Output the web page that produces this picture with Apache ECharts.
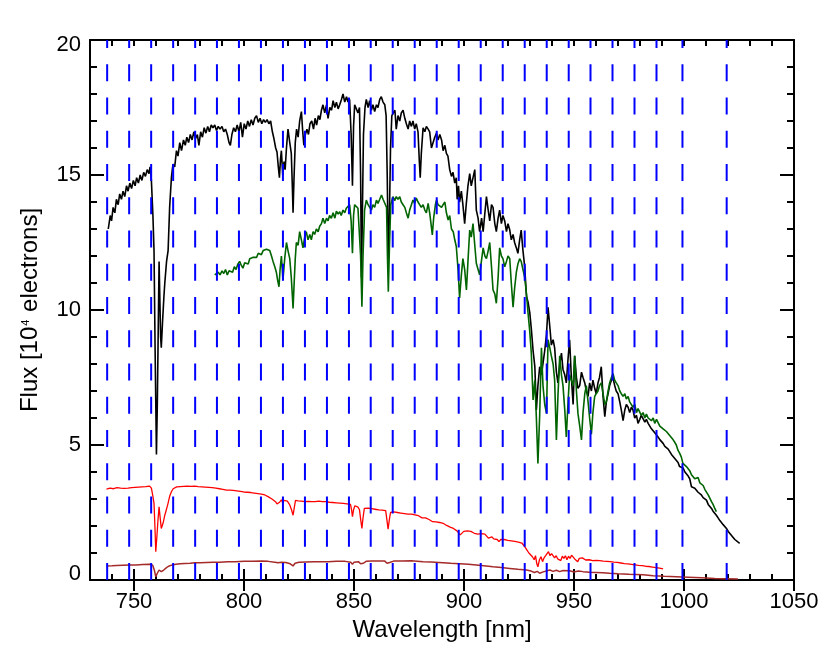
<!DOCTYPE html>
<html>
<head>
<meta charset="utf-8">
<script src="https://cdn.jsdelivr.net/npm/echarts@6/dist/echarts.min.js"></script>
<style>
html,body{margin:0;padding:0;background:#fff;}
#chart{width:830px;height:663px;}
</style>
</head>
<body>
<div id="chart"></div>
<script>
// ---- data ----
const xTickLabels = [750, 800, 850, 900, 950, 1000, 1050];
const yTickLabels = [0, 5, 10, 15, 20];
const guideWavelengths = [737.8, 747.8, 757.8, 767.8, 777.8, 787.7, 797.7, 807.7, 817.7, 827.7, 837.7, 847.7, 857.6, 867.6, 877.6, 887.6, 897.6, 907.6, 917.6, 927.6, 937.6, 947.6, 957.5, 967.5, 977.5, 987.5, 999.3, 1019.4];

const blackSpectrum = [
[738.3,13.0],[739.2,13.5],[739.8,13.3],[740.5,13.8],[741.3,13.6],[742.0,14.1],[742.8,13.9],[743.5,14.3],[744.3,14.1],[745.0,14.4],
[745.8,14.2],[746.6,14.6],[747.3,14.4],[748.1,14.7],[748.9,14.5],[749.7,14.8],[750.5,14.6],[751.2,14.9],[752.0,14.7],[752.8,15.0],
[753.6,14.8],[754.4,15.1],[755.2,14.95],[756.0,15.2],[756.8,15.05],[757.3,15.3],[757.9,14.8],[758.6,13.5],[759.1,12.2],[759.6,8.5],
[760.2,4.65],[760.6,6.5],[760.9,8.5],[761.2,10.5],[761.4,11.8],[761.8,10.2],[762.1,9.0],[762.4,8.6],[763.0,9.6],[763.6,10.5],
[764.0,11.0],[764.8,11.8],[765.5,12.2],[766.2,13.8],[767.0,14.9],[767.7,15.4],[768.5,15.3],[769.3,15.9],[770.0,15.7],[770.8,16.2],
[771.6,15.9],[772.5,16.3],[773.3,16.1],[774.0,16.4],[774.8,16.2],[775.6,16.5],[776.4,16.3],[777.2,16.6],[778.0,16.35],[778.8,16.5],
[779.5,16.1],[780.3,16.6],[781.1,16.4],[781.9,16.75],[782.7,16.55],[783.5,16.8],[784.3,16.6],[785.1,16.85],[785.9,16.75],[786.7,16.85],
[787.5,16.65],[788.3,16.8],[789.1,16.7],[790.0,16.8],[790.8,16.6],[791.6,16.7],[792.4,16.5],[793.2,16.2],[793.8,16.1],[794.5,16.5],
[795.3,16.75],[796.1,16.6],[796.9,16.85],[797.7,16.6],[798.5,16.95],[799.3,16.4],[800.1,16.9],[800.9,16.7],[801.7,17.0],[802.5,16.8],
[803.3,17.05],[804.1,16.85],[804.9,17.1],[805.7,17.2],[806.5,16.95],[807.3,17.1],[808.1,16.9],[808.9,17.05],[809.7,16.95],[810.5,17.05],
[811.3,16.9],[812.1,17.0],[812.9,16.6],[813.6,16.35],[814.4,16.0],[815.0,15.85],[815.6,15.3],[816.1,14.9],[816.6,15.6],[817.0,15.9],
[817.6,15.0],[818.2,15.5],[818.7,15.2],[819.3,16.0],[820.0,16.7],[820.8,16.2],[821.5,15.8],[822.0,14.5],[822.3,13.6],[822.7,14.8],
[823.3,16.2],[823.9,16.7],[824.6,16.4],[825.3,17.0],[826.1,17.35],[826.7,16.6],[827.2,16.1],[827.9,16.5],[828.6,16.7],[829.3,16.5],
[830.0,16.9],[830.8,17.0],[831.6,16.7],[832.3,17.1],[833.0,16.85],[833.8,17.2],[834.5,17.05],[835.2,17.4],[835.9,17.6],[836.7,17.3],
[837.5,17.6],[838.2,17.1],[839.0,17.5],[839.8,17.4],[840.5,17.75],[841.3,17.5],[842.0,17.7],[842.8,17.45],[843.5,17.6],[844.3,17.8],
[845.0,18.0],[845.8,17.7],[846.6,17.9],[847.3,17.7],[848.0,17.8],[848.7,16.5],[849.3,14.6],[849.8,16.8],[850.3,17.6],[851.0,17.55],
[851.8,17.3],[852.5,17.5],[853.0,15.0],[853.4,11.2],[853.8,13.5],[854.3,16.5],[855.0,17.5],[855.6,17.8],[856.4,17.5],[857.1,17.75],
[857.9,17.4],[858.6,17.6],[859.4,17.35],[860.2,17.6],[860.9,17.5],[861.7,17.8],[862.4,17.9],[863.2,17.7],[864.0,17.6],[864.6,17.2],
[865.1,15.0],[865.6,11.9],[866.1,13.5],[866.6,16.0],[867.2,17.2],[867.9,17.3],[868.6,17.4],[869.2,16.7],[870.0,17.2],[870.8,17.0],
[871.5,17.3],[872.3,17.4],[873.1,17.1],[873.8,16.9],[874.6,16.7],[875.3,17.0],[876.1,16.8],[876.8,17.0],[877.6,16.7],[878.3,16.9],
[879.1,16.6],[879.7,15.5],[880.1,14.9],[880.6,15.8],[881.4,16.75],[882.2,16.6],[882.9,16.8],[883.7,16.7],[884.4,16.6],[885.2,16.0],
[885.9,16.05],[886.7,16.4],[887.5,16.55],[888.2,16.3],[889.0,16.5],[889.8,16.3],[890.5,15.9],[891.3,16.1],[892.0,15.8],[892.7,15.7],
[893.5,15.2],[894.3,14.95],[895.0,15.1],[895.8,14.7],[896.5,14.9],[896.9,14.1],[897.5,14.6],[898.0,14.0],[898.8,14.4],[899.5,13.9],
[900.3,13.2],[901.0,13.9],[901.8,14.6],[902.6,15.05],[903.3,14.6],[904.0,14.6],[904.9,15.2],[905.6,13.7],[906.4,13.4],[907.1,12.9],
[908.0,13.4],[908.7,12.9],[909.5,13.6],[910.2,14.2],[911.0,13.7],[911.7,13.3],[912.5,13.9],[913.2,13.8],[914.0,13.2],[914.7,12.9],
[915.5,13.4],[916.2,13.7],[917.0,13.2],[917.7,13.5],[918.5,13.3],[919.3,12.9],[920.0,13.2],[920.8,12.96],[921.5,12.6],[922.3,12.8],
[923.0,12.5],[923.8,12.3],[924.5,12.1],[925.3,12.6],[926.0,12.96],[926.8,12.2],[927.6,11.6],[928.4,10.5],[929.1,10.3],[929.9,9.9],
[930.6,9.3],[931.4,8.5],[932.2,7.9],[932.9,6.3],[933.6,7.2],[934.4,7.9],[935.2,7.6],[935.9,7.55],[936.7,8.5],[937.5,9.1],
[938.2,10.1],[938.6,10.1],[939.2,9.2],[939.7,8.7],[940.5,8.9],[941.2,8.6],[942.0,7.7],[942.7,7.3],[943.5,8.0],[944.3,8.4],
[945.0,7.8],[945.8,7.6],[946.5,7.3],[947.3,8.2],[948.0,8.9],[948.8,7.5],[949.6,6.5],[950.3,8.3],[951.1,7.5],[951.8,7.1],
[952.6,7.2],[953.4,7.7],[954.1,7.5],[954.9,7.3],[955.6,7.0],[956.4,6.8],[957.1,7.3],[957.9,7.0],[958.6,7.4],[959.4,7.1],
[960.1,6.9],[960.9,7.3],[961.6,7.5],[962.4,7.9],[963.2,6.8],[964.0,6.05],[964.7,6.6],[965.5,6.9],[966.2,7.2],[967.0,7.4],
[967.7,7.5],[968.5,7.2],[969.2,7.0],[970.0,6.9],[970.8,6.6],[971.5,6.3],[972.3,5.9],[973.1,6.3],[973.8,6.5],[974.6,6.4],
[975.3,6.2],[976.1,6.4],[976.8,6.3],[977.6,6.0],[978.4,6.1],[979.1,5.8],[979.9,5.95],[980.6,6.1],[981.4,6.05],[982.2,5.85],
[982.9,5.95],[983.7,5.8],[984.4,5.75],[985.2,5.6],[986.0,5.6],[986.7,5.45],[987.5,5.5],[988.2,5.3],[989.0,5.2],[989.8,5.15],
[990.5,5.06],[991.3,4.95],[992.0,4.9],[992.8,4.85],[993.5,4.8],[994.3,4.65],[995.0,4.6],[995.8,4.5],[996.5,4.44],[997.3,4.35],
[998.0,4.2],[998.8,4.25],[999.6,4.15],[1000.4,4.0],[1001.1,3.95],[1001.9,3.85],[1002.6,3.75],[1003.4,3.45],[1004.1,3.5],[1004.9,3.4],
[1005.6,3.35],[1006.4,3.25],[1007.2,3.2],[1007.9,3.15],[1008.7,3.05],[1009.5,3.0],[1010.2,2.96],[1011.0,2.8],[1011.7,2.75],[1012.5,2.65],
[1013.2,2.55],[1014.0,2.5],[1014.7,2.4],[1015.5,2.3],[1016.3,2.2],[1017.0,2.15],[1017.8,2.05],[1018.5,2.0],[1019.3,1.91],[1020.1,1.8],
[1020.8,1.75],[1021.6,1.65],[1022.3,1.6],[1023.1,1.5],[1023.8,1.45],[1024.6,1.4],[1025.3,1.36]
];

const greenSpectrum = [
[786.7,11.3],[787.5,11.25],[788.3,11.4],[789.1,11.3],[790.0,11.45],[790.8,11.35],[791.6,11.5],[792.4,11.3],[793.2,11.45],[794.0,11.5],
[794.8,11.4],[795.6,11.6],[796.4,11.5],[797.2,11.7],[798.0,11.8],[798.8,11.65],[799.5,11.55],[800.3,11.75],[801.1,11.8],[801.9,11.7],
[802.6,11.9],[803.4,11.85],[804.2,11.95],[804.9,12.0],[805.7,11.95],[806.5,12.1],[807.1,12.15],[807.9,12.05],[808.7,12.2],[809.5,12.15],
[810.2,12.25],[811.0,12.2],[811.7,12.2],[812.5,12.0],[813.2,11.8],[814.0,11.6],[814.7,11.4],[815.3,11.1],[815.9,10.86],[816.4,11.5],
[817.0,12.0],[817.4,11.5],[817.7,11.1],[818.5,11.9],[819.3,12.5],[820.0,12.2],[820.8,11.9],[821.5,11.2],[822.0,10.5],[822.3,10.06],
[822.8,11.0],[823.3,11.9],[823.8,12.5],[824.6,12.4],[825.3,12.9],[826.1,12.6],[826.8,12.3],[827.6,12.7],[828.3,12.9],[829.1,12.6],
[829.9,12.8],[830.6,12.6],[831.4,12.9],[832.1,12.8],[832.9,13.0],[833.7,12.9],[834.4,13.1],[835.2,13.2],[835.9,13.4],[836.7,13.2],
[837.5,13.4],[838.2,13.3],[838.9,13.5],[839.7,13.4],[840.5,13.6],[841.3,13.4],[842.0,13.66],[842.8,13.55],[843.5,13.64],[844.2,13.5],
[845.0,13.7],[845.8,13.6],[846.5,13.77],[847.3,13.7],[848.0,13.9],[848.7,13.3],[849.3,12.1],[849.8,13.5],[850.3,13.9],[851.0,13.85],
[851.8,13.77],[852.5,13.8],[853.0,12.0],[853.6,10.12],[854.1,12.0],[854.8,13.7],[855.6,14.07],[856.4,13.9],[857.1,13.95],[857.9,13.7],
[858.6,13.9],[859.4,13.8],[860.2,14.07],[860.9,13.95],[861.7,14.1],[862.5,14.26],[863.2,14.1],[864.0,14.07],[864.8,13.8],[865.2,12.0],
[865.6,10.68],[866.1,12.3],[866.7,13.9],[867.7,14.2],[868.5,14.05],[869.2,14.2],[870.0,14.1],[870.8,14.2],[871.5,14.0],[872.3,13.9],
[873.1,13.8],[873.8,13.6],[874.6,13.4],[875.3,13.7],[876.1,13.9],[876.8,14.07],[877.6,13.95],[878.3,14.15],[879.1,14.0],[879.9,14.0],
[880.6,13.8],[881.4,13.9],[882.2,13.7],[882.9,13.6],[883.7,13.95],[884.4,13.6],[885.0,13.2],[885.6,12.78],[886.2,13.4],[887.0,13.9],
[887.5,14.07],[888.2,13.9],[889.0,13.95],[889.8,13.8],[890.5,13.9],[891.3,14.0],[892.0,13.6],[892.8,13.33],[893.5,13.5],[894.3,13.0],
[895.1,12.9],[895.8,12.6],[896.5,12.35],[897.3,11.5],[898.0,10.45],[898.8,11.3],[899.5,11.9],[900.3,11.5],[901.1,10.74],[901.8,11.8],
[902.6,12.96],[903.3,12.7],[904.1,13.2],[904.9,12.4],[905.6,11.73],[906.4,11.5],[907.1,11.3],[907.9,11.8],[908.7,12.3],[909.5,12.0],
[910.2,11.9],[911.0,12.2],[911.7,12.5],[912.5,11.6],[913.2,10.74],[914.0,10.6],[914.7,10.25],[915.5,11.2],[916.2,12.3],[917.0,12.0],
[917.7,11.9],[918.5,11.6],[919.3,11.8],[920.0,12.0],[920.8,11.9],[921.5,11.0],[922.3,10.1],[923.0,10.8],[923.8,11.4],[924.5,11.7],
[925.3,11.9],[926.0,11.8],[926.8,11.5],[927.6,11.2],[928.4,10.6],[929.1,9.9],[929.9,9.2],[930.6,8.4],[931.4,6.67],[932.2,7.4],
[932.9,6.0],[933.6,4.32],[934.4,6.1],[935.2,8.6],[935.9,7.2],[936.7,6.5],[937.5,6.17],[938.2,8.9],[939.0,8.6],[939.7,8.3],
[940.5,8.0],[941.2,7.4],[942.0,5.19],[942.7,6.8],[943.5,8.3],[944.3,7.6],[945.0,7.2],[945.8,6.3],[946.5,5.3],[947.3,6.6],
[948.0,7.6],[948.8,7.4],[949.6,7.2],[950.3,8.3],[951.1,7.0],[951.8,6.17],[952.6,5.7],[953.4,5.19],[954.1,6.2],[954.9,6.9],
[955.6,7.2],[956.4,6.6],[957.1,6.0],[957.9,5.4],[958.6,6.2],[959.4,6.8],[960.1,6.9],[960.9,7.0],[961.6,7.2],[962.4,7.3],
[963.2,6.9],[964.0,6.5],[964.7,6.6],[965.5,7.0],[966.2,7.3],[967.0,7.5],[967.7,7.65],[968.5,7.4],[969.2,7.3],[970.0,7.2],
[970.8,7.0],[971.5,6.9],[972.3,6.8],[973.1,6.9],[973.8,6.7],[974.6,6.8],[975.3,6.6],[976.1,6.6],[976.8,6.4],[977.6,6.5],
[978.4,6.2],[979.1,6.35],[979.9,6.3],[980.6,6.1],[981.4,6.2],[982.2,6.0],[982.9,6.15],[983.7,6.0],[984.4,6.0],[985.2,5.9],
[986.0,6.0],[986.7,5.8],[987.5,5.95],[988.2,5.9],[989.0,5.7],[989.8,5.75],[990.5,5.6],[991.3,5.6],[992.0,5.5],[992.8,5.45],
[993.5,5.35],[994.3,5.3],[995.0,5.2],[995.8,5.1],[996.5,5.0],[997.3,4.8],[998.0,4.7],[998.8,4.55],[999.5,4.32],[1000.3,4.35],
[1001.1,4.2],[1001.8,4.2],[1002.6,4.05],[1003.4,3.9],[1004.1,3.95],[1004.9,3.75],[1005.6,3.7],[1006.4,3.8],[1007.2,3.6],[1007.9,3.55],
[1008.7,3.5],[1009.5,3.35],[1010.2,3.3],[1011.0,3.15],[1011.7,3.09],[1012.5,2.9],[1013.2,2.8],[1014.0,2.65],[1014.7,2.53]
];

const redSpectrum = [
[737.5,3.37],[738.3,3.35],[739.1,3.4],[739.9,3.33],[740.7,3.38],[741.5,3.35],[742.3,3.42],[743.1,3.38],[743.9,3.4],[744.7,3.43],
[745.5,3.39],[746.3,3.44],[747.3,3.4],[748.1,3.45],[748.9,3.42],[749.7,3.46],[750.5,3.43],[751.3,3.47],[752.1,3.44],[752.9,3.47],
[753.7,3.45],[754.5,3.48],[755.3,3.46],[756.1,3.49],[757.1,3.48],[757.9,3.4],[758.6,3.1],[759.1,2.84],[759.5,2.0],[759.9,1.05],
[760.4,1.6],[760.9,2.22],[761.4,2.71],[761.9,2.3],[762.4,1.91],[763.2,2.1],[764.0,2.4],[764.7,2.6],[765.5,2.85],[766.2,3.1],
[767.0,3.27],[767.8,3.38],[768.6,3.42],[769.4,3.45],[770.2,3.48],[771.0,3.46],[771.8,3.5],[772.6,3.47],[773.4,3.5],[774.2,3.48],
[775.0,3.51],[775.8,3.47],[776.6,3.5],[777.6,3.48],[778.4,3.5],[779.2,3.46],[780.0,3.48],[780.8,3.45],[781.6,3.47],[782.4,3.44],
[783.2,3.46],[784.0,3.43],[784.8,3.46],[785.6,3.42],[786.4,3.44],[787.2,3.4],[788.0,3.42],[788.8,3.38],[789.6,3.4],[790.4,3.36],
[791.2,3.37],[792.0,3.33],[792.7,3.3],[793.5,3.33],[794.3,3.29],[795.1,3.32],[795.9,3.27],[796.7,3.3],[797.5,3.26],[798.3,3.28],
[799.1,3.24],[799.9,3.26],[800.7,3.22],[801.5,3.25],[802.3,3.21],[803.1,3.24],[803.9,3.2],[804.7,3.22],[805.5,3.18],[806.3,3.2],
[807.1,3.17],[807.9,3.18],[808.7,3.14],[809.5,3.15],[810.3,3.1],[811.1,3.08],[811.9,3.04],[812.7,3.0],[813.5,2.95],[814.3,2.9],
[815.0,2.82],[815.5,2.78],[816.2,2.88],[817.0,2.97],[817.6,2.86],[818.2,2.95],[819.0,3.0],[819.7,2.92],[820.4,2.85],[820.8,2.78],
[821.6,2.6],[822.3,2.4],[822.9,2.7],[823.4,2.95],[823.8,3.0],[824.6,2.93],[825.3,2.97],[826.1,2.92],[826.8,2.95],[827.6,2.9],
[828.4,2.94],[829.2,2.91],[830.0,2.93],[830.8,2.9],[831.6,2.94],[832.4,2.9],[833.2,2.93],[834.0,2.92],[834.8,2.94],[835.6,2.9],
[836.4,2.93],[837.2,2.9],[838.0,2.93],[838.8,2.88],[839.6,2.91],[840.4,2.87],[841.2,2.9],[842.0,2.86],[842.8,2.88],[843.6,2.85],
[844.4,2.87],[845.2,2.84],[846.0,2.86],[846.8,2.82],[847.6,2.84],[848.4,2.8],[848.9,2.6],[849.3,2.35],[849.8,2.6],[850.4,2.75],
[851.2,2.72],[851.8,2.7],[852.5,2.6],[853.1,2.2],[853.6,1.91],[854.1,2.3],[854.7,2.65],[855.6,2.7],[856.4,2.66],[857.2,2.68],
[858.0,2.64],[858.8,2.66],[859.6,2.62],[860.4,2.64],[861.2,2.6],[862.0,2.63],[862.8,2.59],[863.6,2.6],[864.4,2.57],[865.0,2.2],
[865.5,1.88],[866.0,2.2],[866.6,2.5],[867.3,2.55],[868.1,2.52],[868.9,2.55],[869.7,2.5],[870.5,2.52],[871.3,2.48],[872.1,2.5],
[872.9,2.46],[873.7,2.48],[874.5,2.44],[875.3,2.42],[876.1,2.44],[876.9,2.4],[877.7,2.41],[878.5,2.37],[879.3,2.38],[880.1,2.33],
[880.9,2.3],[881.7,2.28],[882.5,2.3],[883.3,2.26],[884.1,2.24],[884.9,2.2],[885.7,2.16],[886.5,2.18],[887.3,2.15],[888.1,2.17],
[888.9,2.13],[889.7,2.15],[890.5,2.1],[891.3,2.05],[892.1,2.02],[892.9,1.98],[893.7,1.96],[894.5,1.93],[895.2,1.91],[896.0,1.86],
[896.8,1.82],[897.6,1.75],[898.3,1.67],[899.1,1.74],[899.9,1.8],[900.7,1.76],[901.5,1.82],[902.3,1.85],[903.1,1.8],[903.9,1.78],
[904.7,1.73],[905.5,1.76],[906.3,1.7],[907.1,1.67],[907.9,1.72],[908.7,1.66],[909.5,1.7],[910.3,1.64],[911.1,1.55],[911.9,1.5],
[912.7,1.6],[913.5,1.52],[914.3,1.58],[915.1,1.5],[915.9,1.42],[916.7,1.5],[917.5,1.56],[918.3,1.5],[919.1,1.53],[919.9,1.47],
[920.7,1.48],[921.5,1.45],[922.3,1.47],[923.1,1.43],[923.9,1.42],[924.7,1.4],[925.5,1.41],[926.3,1.37],[927.1,1.3],[927.9,1.2],
[928.7,1.1],[929.5,1.0],[930.3,0.95],[931.1,0.86],[931.9,0.75],[932.5,0.9],[933.1,0.6],[933.6,0.49],[934.3,0.75],[935.0,0.86],
[935.7,0.68],[936.4,0.82],[937.1,0.9],[937.8,0.95],[938.4,1.05],[939.1,0.9],[939.8,0.98],[940.5,0.93],[941.2,0.82],[941.9,0.9],
[942.6,0.78],[943.3,0.85],[944.0,0.72],[944.7,0.88],[945.4,0.8],[946.1,0.9],[946.8,0.75],[947.5,0.88],[948.2,0.8],[948.9,0.92],
[949.6,0.85],[950.3,0.78],[951.0,0.72],[951.7,0.68],[952.4,0.8],[953.1,0.75],[953.8,0.82],[954.5,0.78],[955.3,0.74],[956.1,0.8],
[956.9,0.75],[957.7,0.77],[958.5,0.72],[959.3,0.76],[960.1,0.73],[960.9,0.75],[961.7,0.72],[962.5,0.74],[963.3,0.7],[964.1,0.73],
[964.9,0.69],[965.7,0.71],[966.5,0.68],[967.3,0.7],[968.1,0.66],[968.9,0.68],[969.7,0.65],[970.5,0.66],[971.3,0.63],[972.1,0.64],
[972.9,0.61],[973.7,0.62],[974.5,0.6],[975.3,0.61],[976.1,0.58],[976.9,0.59],[977.7,0.56],[978.5,0.57],[979.3,0.54],[980.1,0.55],
[980.9,0.53],[981.7,0.53],[982.5,0.51],[983.3,0.52],[984.1,0.5],[984.9,0.5],[985.7,0.48],[986.5,0.48],[987.3,0.46],[988.1,0.45],
[988.9,0.44],[989.7,0.43],[990.5,0.41]
];

const brownSpectrum = [
[737.5,0.52],[740,0.53],[742,0.54],[745,0.55],[748,0.56],[751,0.56],[754,0.57],[757.1,0.58],[758.5,0.55],[759.3,0.35],
[759.9,0.12],[760.6,0.25],[761.4,0.37],[762.0,0.3],[762.4,0.31],[763.5,0.37],[764.5,0.44],[765.5,0.5],[767.0,0.55],[769,0.58],
[771,0.6],[773,0.61],[775.5,0.62],[777.6,0.64],[780,0.64],[783,0.65],[786,0.66],[789,0.66],[792.7,0.68],[796,0.68],
[800,0.69],[804,0.69],[807.9,0.7],[811,0.69],[814,0.66],[815.5,0.64],[817,0.66],[819,0.65],[821,0.6],[822.3,0.52],
[823.2,0.62],[825,0.66],[828,0.67],[832,0.68],[835,0.68],[838.2,0.68],[842,0.69],[846,0.69],[848.5,0.66],[849.3,0.58],
[850,0.66],[852,0.68],[853,0.6],[853.6,0.53],[854.3,0.62],[855.5,0.69],[858,0.7],[861,0.7],[864,0.7],[865,0.62],
[865.5,0.58],[866.2,0.65],[868,0.7],[872,0.7],[876,0.71],[881.4,0.68],[885,0.67],[890.5,0.64],[894,0.62],[898,0.6],
[902,0.58],[905.6,0.56],[909,0.53],[913.2,0.49],[917,0.46],[920.8,0.43],[924.5,0.4],[928.4,0.37],[930.5,0.33],[932,0.28],
[933.3,0.32],[934.4,0.25],[936,0.3],[939,0.37],[940.5,0.32],[942,0.36],[943.5,0.31],[945,0.35],[948,0.34],[950,0.3],
[952,0.33],[954.1,0.31],[957,0.29],[960,0.28],[963,0.27],[966.2,0.25],[970,0.23],[975,0.21],[981.4,0.19],[986,0.16],
[991,0.14],[996.5,0.12],[1002,0.1],[1008,0.08],[1014,0.06],[1019,0.05],[1024.5,0.04]
];

// ---- chart ----
const FONT = '"Liberation Sans", Arial, Helvetica, sans-serif';
const chart = echarts.init(document.getElementById('chart'), null, {renderer: 'canvas'});
const black = '#000000';
const tickStyle = {color: black, width: 2};

const guideSeries = guideWavelengths.map(w => ({
  type: 'line', xAxisIndex: 0, yAxisIndex: 0, silent: true, symbol: 'none', z: 5,
  data: [[w, yTickLabels[0]], [w, yTickLabels[yTickLabels.length - 1]]],
  lineStyle: {color: '#0000ff', width: 2, type: [17, 16.25], dashOffset: 0},
  animation: false
}));

function spectrum(data, color, width, z) {
  return {type: 'line', xAxisIndex: 0, yAxisIndex: 0, data: data, symbol: 'none', silent: true,
    lineStyle: {color: color, width: width}, z: z, animation: false};
}

const option = {
  backgroundColor: '#ffffff',
  animation: false,
  grid: {left: 90, right: 36, top: 40, bottom: 83, containLabel: false, outerBoundsMode: 'none'},
  xAxis: [
    {type: 'value', position: 'bottom', min: 730, max: 1050, interval: 10,
     axisLine: {show: true, onZero: false, lineStyle: {color: black, width: 2}},
     axisTick: {show: true, inside: true, length: 6, lineStyle: tickStyle},
     axisLabel: {show: true, margin: 11, color: black, fontSize: 22, fontFamily: FONT,
       formatter: v => (xTickLabels.indexOf(v) >= 0 ? String(v) : '')},
     splitLine: {show: false},
     name: 'Wavelength [nm]', nameLocation: 'middle', nameGap: 36,
     nameTextStyle: {color: black, fontSize: 24, fontFamily: FONT}},
    {type: 'value', position: 'bottom', min: 730, max: 1050,
     axisLine: {show: false},
     axisTick: {show: true, inside: true, length: 11, lineStyle: tickStyle, customValues: xTickLabels},
     axisLabel: {show: false}, splitLine: {show: false}},
    {type: 'value', position: 'top', min: 730, max: 1050, interval: 10,
     axisLine: {show: true, onZero: false, lineStyle: {color: black, width: 2}},
     axisTick: {show: true, inside: true, length: 6, lineStyle: tickStyle},
     axisLabel: {show: false}, splitLine: {show: false}},
    {type: 'value', position: 'top', min: 730, max: 1050,
     axisLine: {show: false},
     axisTick: {show: true, inside: true, length: 11, lineStyle: tickStyle, customValues: xTickLabels},
     axisLabel: {show: false}, splitLine: {show: false}}
  ],
  yAxis: [
    {type: 'value', position: 'left', min: 0, max: 20, interval: 5,
     axisLine: {show: true, onZero: false, lineStyle: {color: black, width: 2}},
     axisTick: {show: true, inside: true, length: 14, lineStyle: tickStyle},
     minorTick: {show: true, splitNumber: 5, length: 7, lineStyle: tickStyle},
     axisLabel: {show: true, margin: 9, color: black, fontSize: 22, fontFamily: FONT,
       formatter: v => v === yTickLabels[0] ? '{lo|' + v + '}' : (v === yTickLabels[yTickLabels.length - 1] ? '{hi|' + v + '}' : '{n|' + v + '}'),
       rich: {
         n: {fontSize: 22, fontFamily: FONT, color: black},
         lo: {fontSize: 22, fontFamily: FONT, color: black, padding: [0, 0, 12, 0]},
         hi: {fontSize: 22, fontFamily: FONT, color: black, padding: [10, 0, 0, 0]}
       }},
     splitLine: {show: false},
     name: '{t|Flux [10}{s|4}{t| electrons]}', nameLocation: 'middle', nameGap: 46, nameRotate: 90,
     nameTextStyle: {color: black, fontFamily: FONT, fontSize: 24,
       rich: {
         t: {fontSize: 24, fontFamily: FONT, color: black, lineHeight: 28},
         s: {fontSize: 11, fontFamily: FONT, color: black, lineHeight: 28, verticalAlign: 'top', padding: [4, 1, 0, 1]}
       }}},
    {type: 'value', position: 'right', min: 0, max: 20, interval: 5,
     axisLine: {show: true, onZero: false, lineStyle: {color: black, width: 2}},
     axisTick: {show: true, inside: true, length: 14, lineStyle: tickStyle},
     minorTick: {show: true, splitNumber: 5, length: 7, lineStyle: tickStyle},
     axisLabel: {show: false}, splitLine: {show: false}}
  ],
  series: [
    spectrum(brownSpectrum, '#a52a2a', 1.5, 2),
    spectrum(redSpectrum, '#ff0000', 1.3, 2),
    spectrum(blackSpectrum, '#000000', 1.6, 3),
    spectrum(greenSpectrum, '#006400', 1.6, 4)
  ].concat(guideSeries)
};
chart.setOption(option);
</script>
</body>
</html>
